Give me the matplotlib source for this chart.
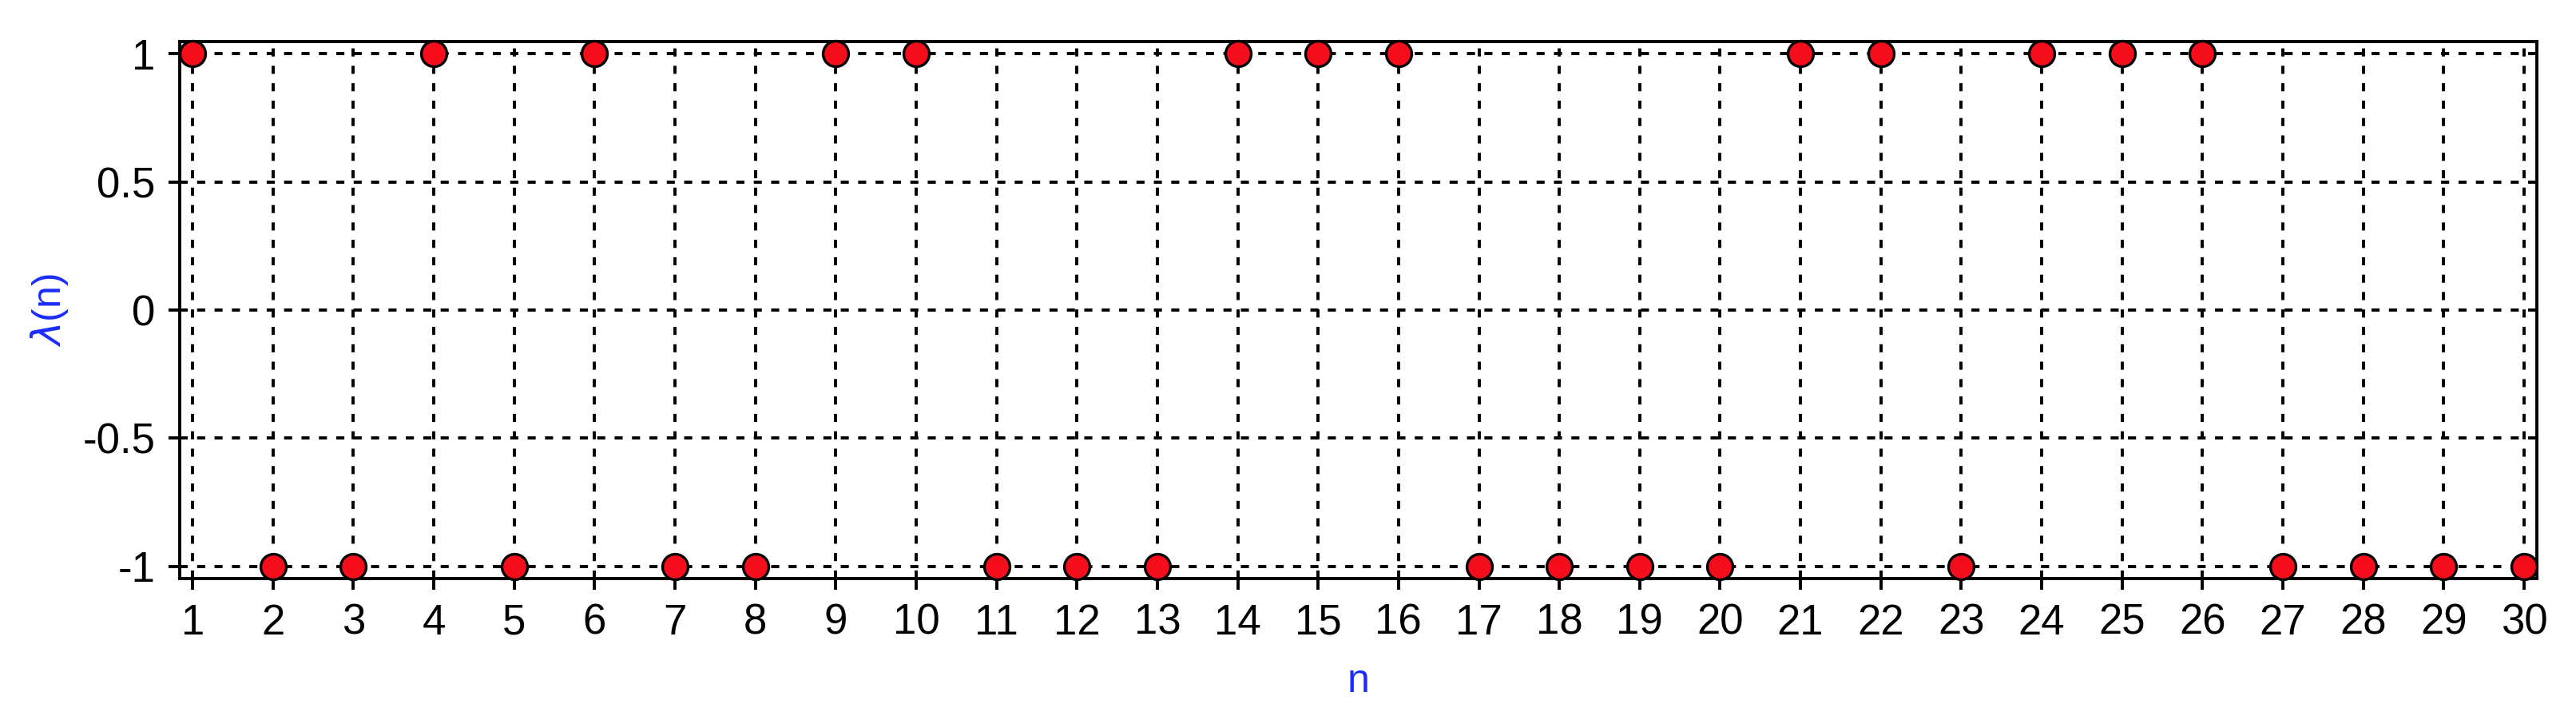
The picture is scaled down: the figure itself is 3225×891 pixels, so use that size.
import numpy as np
import matplotlib
matplotlib.use('Agg')
import matplotlib.pyplot as plt

# Liouville function values, n = 1..30
n_values = list(range(1, 31))
lam_values = [1, -1, -1, 1, -1, 1, -1, -1, 1, 1,
              -1, -1, -1, 1, 1, 1, -1, -1, -1, -1,
              1, 1, -1, 1, 1, 1, -1, -1, -1, -1]
y_ticks = [-1, -0.5, 0, 0.5, 1]
y_tick_labels = ['-1', '-0.5', '0', '0.5', '1']

plt.rcParams['font.family'] = ['Liberation Sans', 'DejaVu Sans']
plt.rcParams['axes.unicode_minus'] = False

fig = plt.figure(figsize=(16.125, 4.455), dpi=200)
ax = fig.add_axes([0.0698, 0.1874, 0.915, 0.7542])

ax.plot(n_values, lam_values, linestyle='none', marker='o', markersize=11.5,
        markerfacecolor='#f50d1c', markeredgecolor='black', markeredgewidth=1.2,
        clip_on=False, zorder=5)

ax.set_xlim(0.84, 30.16)
ax.set_ylim(-1.047, 1.047)
ax.set_xticks(n_values)
ax.set_yticks(y_ticks)
ax.set_yticklabels(y_tick_labels)

# dashed grid, black
ax.grid(True, color='black', linewidth=1.4, linestyle=(0, (2.6, 3)))
ax.set_axisbelow(True)

for sp in ax.spines.values():
    sp.set_linewidth(1.4)
ax.tick_params(direction='out', length=5, width=1.4, labelsize=19, colors='black', pad=6)

ax.set_xlabel('n', color='#1a2cff', fontsize=18)
ax.set_ylabel(r'$\lambda$(n)', color='#1a2cff', fontsize=18)
ax.xaxis.set_label_coords(0.5, -0.192)
ax.yaxis.set_label_coords(-0.0552, 0.5)
ax.yaxis.label.set_verticalalignment('center')
ax.xaxis.label.set_verticalalignment('center')

fig.savefig('out.png', dpi=200)
